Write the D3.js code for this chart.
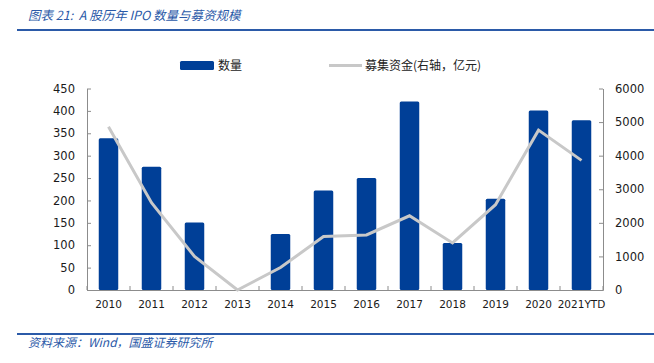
<!DOCTYPE html>
<html><head><meta charset="utf-8">
<script src="https://cdn.jsdelivr.net/npm/d3@7"></script>
<style>
body{margin:0;background:#fff;}
svg{display:block;}
text{white-space:pre;}
</style></head>
<body>
<svg id="c" width="654" height="363"></svg>
<script>
const categories = ["2010","2011","2012","2013","2014","2015","2016","2017","2018","2019","2020","2021YTD"];
const ipoCount = [339, 275, 151, 0, 125, 222, 250, 421, 105, 204, 401, 379];
const raised = [4860, 2600, 1000, 0, 670, 1590, 1640, 2210, 1400, 2540, 4760, 3860];
const leftTicks = [0,50,100,150,200,250,300,350,400,450];
const rightTicks = [0,1000,2000,3000,4000,5000,6000];
const seriesNames = ["数量","募集资金(右轴，亿元)"];
const titleText = "图表 21:  A 股历年 IPO 数量与募资规模";
const sourceText = "资料来源：Wind，国盛证券研究所";

const svg = d3.select("#c");
const blue = "#003f97", grey = "#c8c8c8", axisCol = "#8c8c8c", hdr = "#2b5aa8";
const font = "'DejaVu Sans', Verdana, sans-serif";
const cjk = "'Noto Sans CJK SC', sans-serif";

const x0 = 87, x1 = 603, yTop = 88.5, yBot = 290;
const x = d3.scaleBand().domain(categories).range([x0, x1]).paddingInner(0).paddingOuter(0);
const yL = d3.scaleLinear().domain([0,450]).range([yBot, yTop]);
const yR = d3.scaleLinear().domain([0,6000]).range([yBot, yTop]);

// header
svg.append("text").attr("x",28).attr("y",20).attr("fill",hdr)
  .attr("font-family",cjk).attr("font-size",12.5).attr("font-style","italic").text(titleText);
svg.append("line").attr("x1",17).attr("x2",654).attr("y1",30).attr("y2",30).attr("stroke",hdr).attr("stroke-width",2);
svg.append("line").attr("x1",17).attr("x2",654).attr("y1",334).attr("y2",334).attr("stroke",hdr).attr("stroke-width",2);
svg.append("text").attr("x",28).attr("y",347).attr("fill",hdr)
  .attr("font-family",cjk).attr("font-size",12).attr("font-style","italic").text(sourceText);

// bars
const bw = 19.5;
svg.append("g").selectAll("rect").data(categories.map((c,i)=>({c,v:ipoCount[i]})).filter(d=>d.v>0))
  .join("rect")
  .attr("x",d=>x(d.c)+x.bandwidth()/2-bw/2).attr("width",bw)
  .attr("y",d=>yL(d.v)).attr("height",d=>yBot-yL(d.v))
  .attr("rx",1.5).attr("fill",blue);

// axes
const axL = svg.append("g").attr("transform",`translate(${x0},0)`)
  .call(d3.axisLeft(yL).tickValues(leftTicks).tickFormat(d3.format("d")).tickSizeInner(-4).tickSizeOuter(0).tickPadding(12));
const axR = svg.append("g").attr("transform",`translate(${x1},0)`)
  .call(d3.axisRight(yR).tickValues(rightTicks).tickFormat(d3.format("d")).tickSizeInner(-4).tickSizeOuter(0).tickPadding(12));
const axB = svg.append("g").attr("transform",`translate(0,${yBot})`)
  .call(d3.axisBottom(x).tickSize(0).tickPadding(11));
// x ticks between categories
const bounds = d3.range(categories.length+1).map(i=>x0+i*x.bandwidth());
svg.append("g").selectAll("line").data(bounds).join("line")
  .attr("x1",d=>d).attr("x2",d=>d).attr("y1",yBot).attr("y2",yBot-4)
  .attr("stroke",axisCol).attr("stroke-width",1);
[axL,axR,axB].forEach(a=>{
  a.selectAll("path,line").attr("stroke",axisCol).attr("stroke-width",1);
  a.selectAll("text").attr("font-family",font).attr("fill","#1a1a1a");
});
axL.selectAll("text").attr("font-size",11.5);
axR.selectAll("text").attr("font-size",11.5);
axB.selectAll("text").attr("font-size",10.5);

// line
const line = d3.line().x((d,i)=>x(categories[i])+x.bandwidth()/2).y(d=>yR(d));
svg.append("path").datum(raised).attr("d",line).attr("fill","none")
  .attr("stroke",grey).attr("stroke-width",3).attr("stroke-linejoin","miter");

// legend
const lg = svg.append("g");
lg.append("rect").attr("x",180).attr("y",61).attr("width",34).attr("height",9).attr("rx",1.5).attr("fill",blue);
lg.append("text").attr("x",218).attr("y",70).attr("font-family",cjk).attr("font-size",12).attr("fill","#222").text(seriesNames[0]);
lg.append("line").attr("x1",329).attr("x2",362).attr("y1",65.5).attr("y2",65.5).attr("stroke",grey).attr("stroke-width",3);
lg.append("text").attr("x",365).attr("y",70).attr("font-family",cjk).attr("font-size",12).attr("fill","#222").text(seriesNames[1]);
</script>
</body></html>
